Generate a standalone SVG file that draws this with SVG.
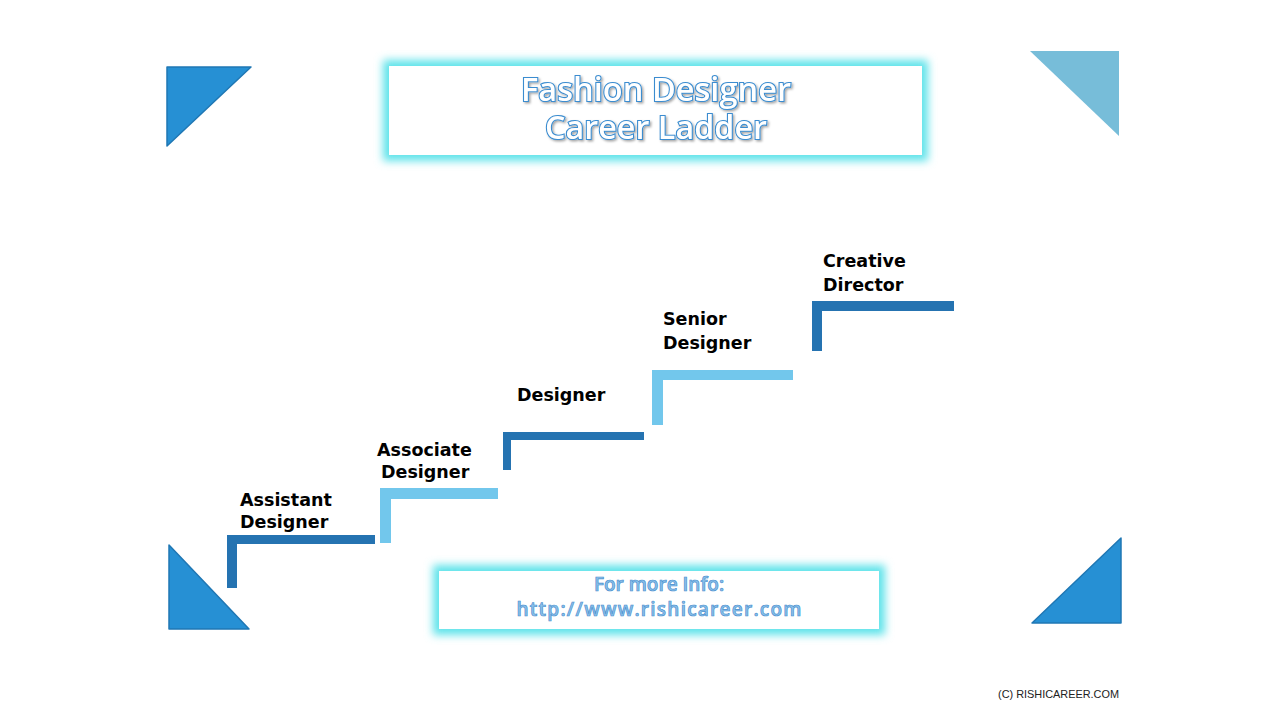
<svg xmlns="http://www.w3.org/2000/svg" width="1280" height="720" viewBox="0 0 1280 720">
<defs>
<filter id="glow" x="-10%" y="-30%" width="120%" height="160%">
<feGaussianBlur stdDeviation="4"/>
</filter>
<filter id="tshadow" x="-5%" y="-20%" width="110%" height="140%">
<feDropShadow dx="1.5" dy="1.5" stdDeviation="0.8" flood-color="#000" flood-opacity="0.35"/>
</filter>
<style>
.tri-dark{fill:#2690d4;stroke:#1f77b4;stroke-width:1.5;stroke-linejoin:round}
.tri-light{fill:#77bdd9}
.dark{fill:#2573b1}
.light{fill:#72c7ec}
.lbl{font-family:"DejaVu Sans",Verdana,sans-serif;font-weight:bold;font-size:17.5px;fill:#000}
.title{font-family:"Open Sans","Liberation Sans",sans-serif;font-weight:600;font-size:33px;fill:#fff;stroke:#3a8cd0;stroke-width:2.2;paint-order:stroke;text-anchor:middle}
.info{font-family:"Open Sans","Liberation Sans",sans-serif;font-weight:600;font-size:19px;fill:#8cc2ea;stroke:#4a8fcf;stroke-width:0.7;text-anchor:middle}
.glowrect{fill:#5ee3ea}
.copy{font-family:"Liberation Sans",Arial,sans-serif;font-size:10.9px;fill:#222}
</style>
</defs>
<rect width="1280" height="720" fill="#fff"/>

<g id="corners">
<polygon class="tri-dark" points="167,67 251,67 167,146"/>
<polygon class="tri-light" points="1030,51 1119,51 1119,136"/>
<polygon class="tri-dark" points="169,545 169,629 249,629"/>
<polygon class="tri-dark" points="1121,538 1121,623 1032,623"/>
</g>

<g id="title">
<rect class="glowrect" x="383" y="60" width="545" height="101" filter="url(#glow)"/>
<rect x="389" y="66" width="533" height="89" fill="#fff"/>
<text class="title" x="656" y="101" textLength="270" lengthAdjust="spacingAndGlyphs" filter="url(#tshadow)">Fashion Designer</text>
<text class="title" x="656" y="139" textLength="222" lengthAdjust="spacingAndGlyphs" filter="url(#tshadow)">Career Ladder</text>
</g>

<g id="connectors">
<path class="dark" d="M227,535 H375 V544 H237 V588 H227 Z"/>
<path class="light" d="M380,488 H498 V499 H391 V543 H380 Z"/>
<path class="dark" d="M503,432 H644 V440 H511 V470 H503 Z"/>
<path class="light" d="M652,370 H793 V380 H663 V425 H652 Z"/>
<path class="dark" d="M812,301 H954 V311 H822 V351 H812 Z"/>
</g>

<g id="step1"><text class="lbl" x="240" y="506">Assistant</text><text class="lbl" x="240" y="528">Designer</text></g>
<g id="step2"><text class="lbl" x="377" y="456">Associate</text><text class="lbl" x="381" y="478">Designer</text></g>
<g id="step3"><text class="lbl" x="517" y="401">Designer</text></g>
<g id="step4"><text class="lbl" x="663" y="325">Senior</text><text class="lbl" x="663" y="349">Designer</text></g>
<g id="step5"><text class="lbl" x="823" y="267">Creative</text><text class="lbl" x="823" y="291">Director</text></g>

<g id="info">
<rect class="glowrect" x="433" y="565" width="452" height="70" filter="url(#glow)"/>
<rect x="439" y="571" width="440" height="58" fill="#fff"/>
<text class="info" x="659" y="591">For more Info:</text>
<text class="info" x="659" y="616" textLength="285" lengthAdjust="spacing">http://www.rishicareer.com</text>
</g>

<text class="copy" x="998" y="698">(C) RISHICAREER.COM</text>
</svg>
